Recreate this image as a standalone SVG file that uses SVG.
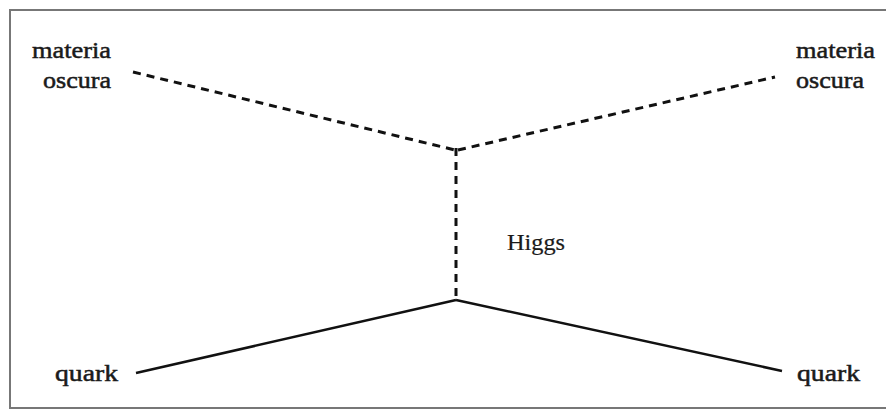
<svg xmlns="http://www.w3.org/2000/svg" width="886" height="412" viewBox="0 0 886 412">
<style>
.t{font-family:"Liberation Serif","Times New Roman",serif;font-size:23px;fill:#1a1a1a;stroke:#1a1a1a;stroke-width:0.5}
.h{stroke-width:0.2}
.d{stroke:#111;stroke-width:3;stroke-dasharray:8,6;fill:none}
.s{stroke:#111;stroke-width:2.5;fill:none}
</style>
<rect x="0" y="0" width="886" height="412" fill="#fff"/>
<rect x="10" y="10" width="880" height="398" fill="none" stroke="#777" stroke-width="2"/>
<g id="connectors">
<line class="d" x1="133" y1="72" x2="455" y2="150"/>
<line class="d" x1="458" y1="150" x2="775" y2="77"/>
<line class="d" x1="456" y1="148" x2="456" y2="298"/>
<line class="s" x1="136" y1="373" x2="456" y2="300"/>
<line class="s" x1="456" y1="300" x2="782" y2="371"/>
</g>
<g id="dm-left"><text class="t" x="32" y="58" textLength="79" lengthAdjust="spacingAndGlyphs">materia</text><text class="t" x="43" y="88" textLength="68" lengthAdjust="spacingAndGlyphs">oscura</text></g>
<g id="dm-right"><text class="t" x="796" y="58" textLength="79" lengthAdjust="spacingAndGlyphs">materia</text><text class="t" x="796" y="88" textLength="68" lengthAdjust="spacingAndGlyphs">oscura</text></g>
<g id="higgs"><text class="t h" x="507" y="250" textLength="58" lengthAdjust="spacingAndGlyphs">Higgs</text></g>
<g id="quark-left"><text class="t" x="55" y="381" textLength="63" lengthAdjust="spacingAndGlyphs">quark</text></g>
<g id="quark-right"><text class="t" x="797" y="381" textLength="63" lengthAdjust="spacingAndGlyphs">quark</text></g>
</svg>
